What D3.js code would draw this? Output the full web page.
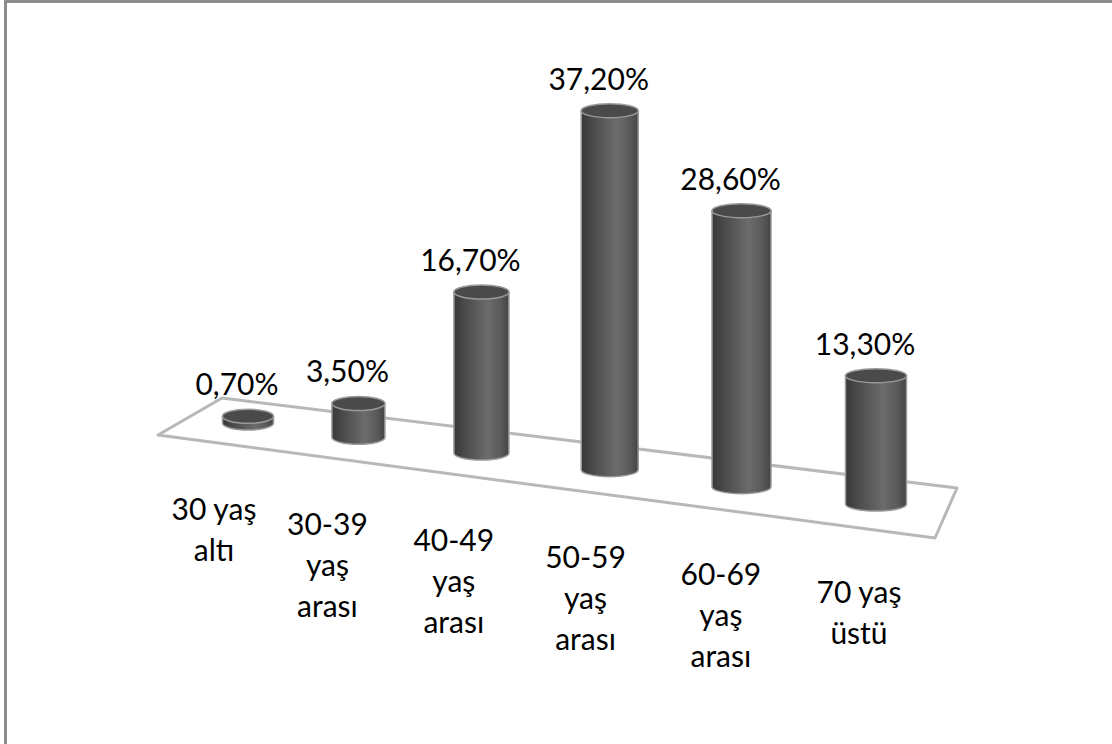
<!DOCTYPE html>
<html>
<head>
<meta charset="utf-8">
<script src="https://cdn.jsdelivr.net/npm/d3@7"></script>
<style>
body{margin:0;background:#fff;}
svg{display:block;}
</style>
</head>
<body>
<svg id="chart" width="1112" height="744"></svg>
<script>
// age groups (lines as wrapped in the original)
var categories = [
  ["30 yaş", "altı"],
  ["30-39", "yaş", "arası"],
  ["40-49", "yaş", "arası"],
  ["50-59", "yaş", "arası"],
  ["60-69", "yaş", "arası"],
  ["70 yaş", "üstü"]
];
var values = [0.7, 3.5, 16.7, 37.2, 28.6, 13.3];

var svg = d3.select("#chart");
var n = values.length;

// outer frame (only top and left edges show)
svg.append("rect").attr("x", 4).attr("y", 0).attr("width", 1108).attr("height", 3).attr("fill", "#8c8c8c");
svg.append("rect").attr("x", 4).attr("y", 0).attr("width", 3).attr("height", 744).attr("fill", "#8c8c8c");

// perspective-ish scales
var xScale = d3.scalePow().exponent(1.08).domain([0, n - 1]).range([248, 876]);
var labelX = d3.scalePow().exponent(1.08).domain([0, n - 1]).range([214, 859]);
var rScale = d3.scaleLinear().domain([0, n - 1]).range([25.5, 30.5]);
var hScale = d3.scaleLinear().domain([0, 40]).range([0, 386]);
var ry = 7;

function floorY(x){ return 423 + 0.129 * (x - 248); }
function catY(x){ return 520 + 0.129 * (x - 214); }

var defs = svg.append("defs");
var grad = defs.append("linearGradient").attr("id", "cyl").attr("x1", 0).attr("x2", 1).attr("y1", 0).attr("y2", 0);
grad.append("stop").attr("offset", "0%").attr("stop-color", "#383838");
grad.append("stop").attr("offset", "20%").attr("stop-color", "#4a4a4a");
grad.append("stop").attr("offset", "62%").attr("stop-color", "#6c6c6c");
grad.append("stop").attr("offset", "85%").attr("stop-color", "#5a5a5a");
grad.append("stop").attr("offset", "100%").attr("stop-color", "#444444");

// floor
var floorPts = [[158, 435], [222, 398], [957, 488], [935, 538]];
svg.append("polygon")
   .attr("points", floorPts.map(function(p){ return p.join(","); }).join(" "))
   .attr("fill", "none")
   .attr("stroke", "#b8b8b8")
   .attr("stroke-width", 3)
   .attr("stroke-linejoin", "round");

var bars = svg.selectAll(".bar")
   .data(values)
   .enter().append("g")
   .attr("class", "bar");

bars.append("path")
   .attr("d", function(d, i){
      var cx = xScale(i), rx = rScale(i);
      var yb = floorY(cx), yt = yb - hScale(d);
      return "M" + (cx - rx) + "," + yt +
             "L" + (cx - rx) + "," + yb +
             "A" + rx + "," + ry + " 0 0 0 " + (cx + rx) + "," + yb +
             "L" + (cx + rx) + "," + yt + "Z";
   })
   .attr("fill", "url(#cyl)")
   .attr("stroke", "#9a9a9a")
   .attr("stroke-width", 1.5);

bars.append("ellipse")
   .attr("cx", function(d, i){ return xScale(i); })
   .attr("cy", function(d, i){ return floorY(xScale(i)) - hScale(d); })
   .attr("rx", function(d, i){ return rScale(i); })
   .attr("ry", ry)
   .attr("fill", "#4a4a4a")
   .attr("stroke", "#9a9a9a")
   .attr("stroke-width", 1.5);

// value labels
svg.selectAll(".val")
   .data(values)
   .enter().append("text")
   .attr("class", "val")
   .attr("x", function(d, i){ return xScale(i) - 11; })
   .attr("y", function(d, i){ return floorY(xScale(i)) - hScale(d) - ry - 14; })
   .attr("text-anchor", "middle")
   .attr("font-family", "Lato, sans-serif")
   .attr("font-size", "30px")
   .attr("fill", "#000")
   .text(function(d){ return d.toFixed(2).replace(".", ",") + "%"; });

// category labels
var cats = svg.selectAll(".cat")
   .data(categories)
   .enter().append("text")
   .attr("class", "cat")
   .attr("text-anchor", "middle")
   .attr("font-family", "Lato, sans-serif")
   .attr("font-size", "30px")
   .attr("fill", "#000");

cats.each(function(lines, i){
   var x = labelX(i);
   var t = d3.select(this);
   lines.forEach(function(line, k){
      t.append("tspan")
       .attr("x", x)
       .attr("y", catY(x) + k * 41)
       .text(line);
   });
});
</script>
</body>
</html>
